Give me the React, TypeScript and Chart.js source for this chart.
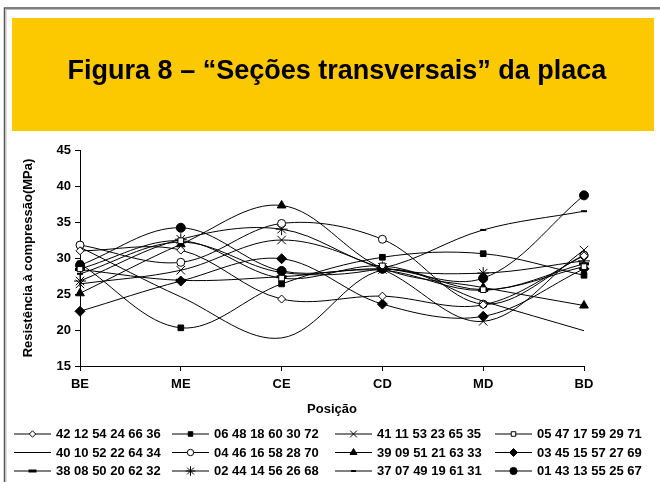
import React, { useEffect, useRef } from 'react';
import { Chart, registerables } from 'chart.js';
import { drawPoint } from 'chart.js/helpers';

Chart.register(...registerables);

const TITLE = 'Figura 8 – “Seções transversais” da placa';
const X_TITLE = 'Posição';
const Y_TITLE = 'Resistência à compressão(MPa)';

const categories = ['BE', 'ME', 'CE', 'CD', 'MD', 'BD'];
const yMin = 15;
const yMax = 45;
const yStep = 5;

const names = [
  '42 12 54 24 66 36',
  '06 48 18 60 30 72',
  '41 11 53 23 65 35',
  '05 47 17 59 29 71',
  '40 10 52 22 64 34',
  '04 46 16 58 28 70',
  '39 09 51 21 63 33',
  '03 45 15 57 27 69',
  '38 08 50 20 62 32',
  '02 44 14 56 26 68',
  '37 07 49 19 61 31',
  '01 43 13 55 25 67',
];

const s01 = [31.0, 31.1, 24.3, 24.7, 23.5, 30.3];
const s02 = [29.2, 20.3, 26.4, 30.1, 30.6, 27.6];
const s03 = [26.4, 28.3, 32.5, 28.4, 21.2, 31.1];
const s04 = [28.5, 32.4, 27.2, 28.9, 25.6, 28.8];
const s05 = [31.5, 24.6, 18.9, 28.3, 24.0, 19.9];
const s06 = [31.8, 29.4, 34.8, 32.6, 23.6, 30.4];
const s07 = [25.1, 31.9, 37.3, 28.6, 25.9, 23.4];
const s08 = [22.6, 26.8, 29.9, 23.6, 21.9, 28.5];
const s09 = [28.4, 26.9, 27.4, 28.3, 25.5, 29.2];
const s10 = [26.8, 32.6, 34.0, 28.7, 27.9, 29.6];
const s11 = [27.8, 32.2, 28.0, 28.6, 33.9, 36.5];
const s12 = [29.0, 34.2, 28.2, 28.5, 27.2, 38.7];

const seriesValues = [s01, s02, s03, s04, s05, s06, s07, s08, s09, s10, s11, s12];

type Marker = { style: any; radius: number; fill: string; width: number };
const markers: Marker[] = [
  { style: 'rectRot', radius: 4, fill: '#ffffff', width: 1 },
  { style: 'rect', radius: 4, fill: '#000000', width: 1 },
  { style: 'crossRot', radius: 6, fill: '#000000', width: 1 },
  { style: 'rect', radius: 4, fill: '#ffffff', width: 1 },
  { style: false, radius: 0, fill: '#000000', width: 1 },
  { style: 'circle', radius: 4, fill: '#ffffff', width: 1 },
  { style: 'triangle', radius: 5, fill: '#000000', width: 1 },
  { style: 'rectRot', radius: 5, fill: '#000000', width: 1 },
  { style: 'line', radius: 5, fill: '#000000', width: 3 },
  { style: 'star', radius: 6, fill: '#000000', width: 1 },
  { style: 'line', radius: 3, fill: '#000000', width: 2 },
  { style: 'circle', radius: 4.5, fill: '#000000', width: 1 },
];

const FONT = "'Liberation Sans', Arial, sans-serif";

const framePlugin = {
  id: 'framePlugin',
  beforeDraw(chart: any) {
    const ctx = chart.ctx;
    ctx.save();
    ctx.fillStyle = '#ffffff';
    ctx.fillRect(0, 0, chart.width, chart.height);
    ctx.strokeStyle = '#555555';
    ctx.lineWidth = 1.5;
    ctx.beginPath();
    ctx.moveTo(4.5, chart.height);
    ctx.lineTo(4.5, 8);
    ctx.lineTo(chart.width, 8);
    ctx.stroke();
    ctx.strokeStyle = '#bbbbbb';
    ctx.lineWidth = 1;
    ctx.beginPath();
    ctx.moveTo(6, chart.height);
    ctx.lineTo(6, 9.5);
    ctx.lineTo(chart.width, 9.5);
    ctx.stroke();
    ctx.fillStyle = '#FCC800';
    ctx.fillRect(12, 18, 642, 113);
    ctx.fillStyle = '#000000';
    ctx.font = `bold 27px ${FONT}`;
    ctx.textAlign = 'center';
    ctx.textBaseline = 'middle';
    ctx.fillText(TITLE, 337, 72);
    ctx.restore();
  },
  afterDraw(chart: any) {
    const ctx = chart.ctx;
    ctx.save();
    const colX = [14, 172, 335, 495];
    const rowY = [434, 452.5, 471];
    const lineLen = 37;
    chart.data.datasets.forEach((ds: any, i: number) => {
      const r = Math.floor(i / 4);
      const c = i % 4;
      const x0 = colX[c];
      const y = rowY[r];
      ctx.strokeStyle = '#000000';
      ctx.lineWidth = 1;
      ctx.beginPath();
      ctx.moveTo(x0, y);
      ctx.lineTo(x0 + lineLen, y);
      ctx.stroke();
      const m = markers[i];
      if (m.style) {
        ctx.fillStyle = m.fill;
        ctx.strokeStyle = '#000000';
        ctx.lineWidth = m.width;
        drawPoint(ctx, { pointStyle: m.style, radius: m.radius * 0.8, rotation: 0, borderWidth: m.width }, x0 + lineLen / 2, y);
      }
      ctx.fillStyle = '#000000';
      ctx.font = `bold 13px ${FONT}`;
      ctx.textAlign = 'left';
      ctx.textBaseline = 'middle';
      ctx.fillText(ds.label, x0 + lineLen + 5, y + 0.5);
    });
    ctx.restore();
  },
};

export default function App() {
  const ref = useRef<HTMLCanvasElement | null>(null);
  useEffect(() => {
    if (!ref.current) return;
    const datasets = seriesValues.map((vals, i) => {
      const m = markers[i];
      return {
        label: names[i],
        data: vals,
        borderColor: '#000000',
        borderWidth: 1,
        backgroundColor: m.fill,
        pointStyle: m.style,
        pointRadius: m.radius,
        pointBorderColor: '#000000',
        pointBackgroundColor: m.fill,
        pointBorderWidth: m.width,
        tension: 0.35,
        fill: false,
      };
    });
    const chart = new Chart(ref.current, {
      type: 'line',
      data: { labels: categories, datasets },
      options: {
        responsive: false,
        animation: false,
        events: [],
        layout: { padding: { top: 150, left: 18, right: 76, bottom: 64 } },
        plugins: { legend: { display: false }, tooltip: { enabled: false }, title: { display: false } },
        scales: {
          x: {
            type: 'category',
            offset: false,
            grid: { display: true, drawOnChartArea: false, drawTicks: true, tickLength: 5, color: '#000000' },
            border: { display: true, color: '#000000', width: 1 },
            ticks: { color: '#000000', font: { family: FONT, size: 13, weight: 'bold' }, padding: 6, maxRotation: 0 },
            title: { display: true, text: X_TITLE, color: '#000000', font: { family: FONT, size: 13, weight: 'bold' }, padding: { top: 0, bottom: 1 } },
            afterFit: (s: any) => { s.height = 52; },
          },
          y: {
            min: yMin,
            max: yMax,
            grid: { display: true, drawOnChartArea: false, drawTicks: true, tickLength: 5, color: '#000000' },
            border: { display: true, color: '#000000', width: 1 },
            ticks: { stepSize: yStep, color: '#000000', font: { family: FONT, size: 13, weight: 'bold' }, padding: 4 },
            title: { display: true, text: Y_TITLE, color: '#000000', font: { family: FONT, size: 13, weight: 'bold' }, padding: { top: 3, bottom: 0 } },
            afterFit: (s: any) => { s.width = 62; },
          },
        },
      },
      plugins: [framePlugin],
    });
    return () => chart.destroy();
  }, []);
  return (
    <div style={{ position: 'absolute', left: 0, top: 0, width: 660, height: 482, background: '#fff' }}>
      <canvas ref={ref} width={660} height={482} style={{ display: 'block', width: 660, height: 482 }} />
    </div>
  );
}
